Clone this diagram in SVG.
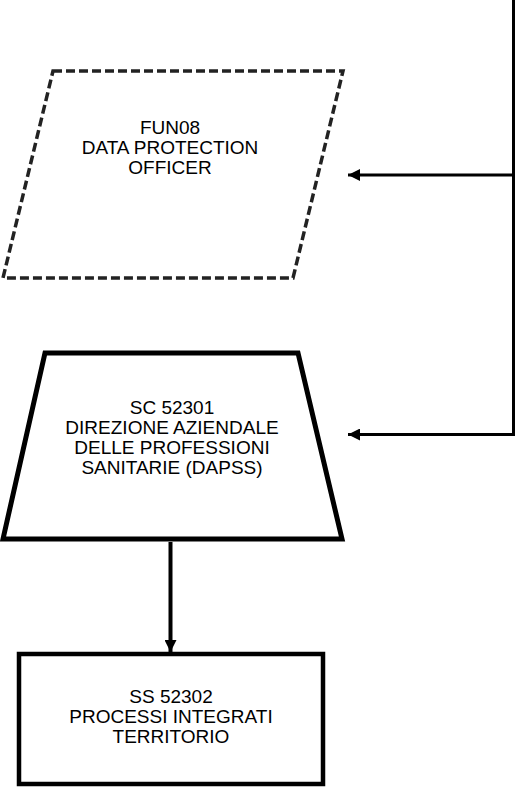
<svg xmlns="http://www.w3.org/2000/svg" width="518" height="787" viewBox="0 0 518 787">
<style>
text{font-family:"Liberation Sans",Arial,sans-serif;font-size:19px;fill:#000;text-anchor:middle}
.conn{fill:none;stroke:#000;stroke-width:3}
.thick{stroke-width:4}
</style>
<defs>
<marker id="ah" viewBox="0 0 12 12" refX="12" refY="6" markerWidth="12" markerHeight="12" markerUnits="userSpaceOnUse" orient="auto">
<path d="M0,0 L12,6 L0,12 Z" fill="#000"/>
</marker>
</defs>
<rect width="518" height="787" fill="#fff"/>
<g id="n1">
<polygon points="53,71 343,71 293,278 3,278" fill="#fff" stroke="#222" stroke-width="3.5" stroke-dasharray="9,4"/>
<text x="170" y="134">FUN08</text>
<text x="170" y="154">DATA PROTECTION</text>
<text x="170" y="174">OFFICER</text>
</g>
<g id="n2">
<polygon points="45,353 298,353 342,539 3,539" fill="#fff" stroke="#000" stroke-width="5"/>
<text x="172" y="414">SC 52301</text>
<text x="172" y="434">DIREZIONE AZIENDALE</text>
<text x="172" y="454">DELLE PROFESSIONI</text>
<text x="172" y="474">SANITARIE (DAPSS)</text>
</g>
<g id="n3">
<rect x="19" y="654" width="304" height="130" fill="#fff" stroke="#000" stroke-width="4.5"/>
<text x="171" y="703">SS 52302</text>
<text x="171" y="723">PROCESSI INTEGRATI</text>
<text x="171" y="743">TERRITORIO</text>
</g>
<g id="connectors">
<polyline class="conn" points="513.5,0 513.5,434.5 348,434.5" marker-end="url(#ah)"/>
<line class="conn" x1="513.5" y1="175" x2="348" y2="175" marker-end="url(#ah)"/>
<line class="conn thick" x1="170.5" y1="542" x2="170.5" y2="652" marker-end="url(#ah)"/>
</g>
</svg>
